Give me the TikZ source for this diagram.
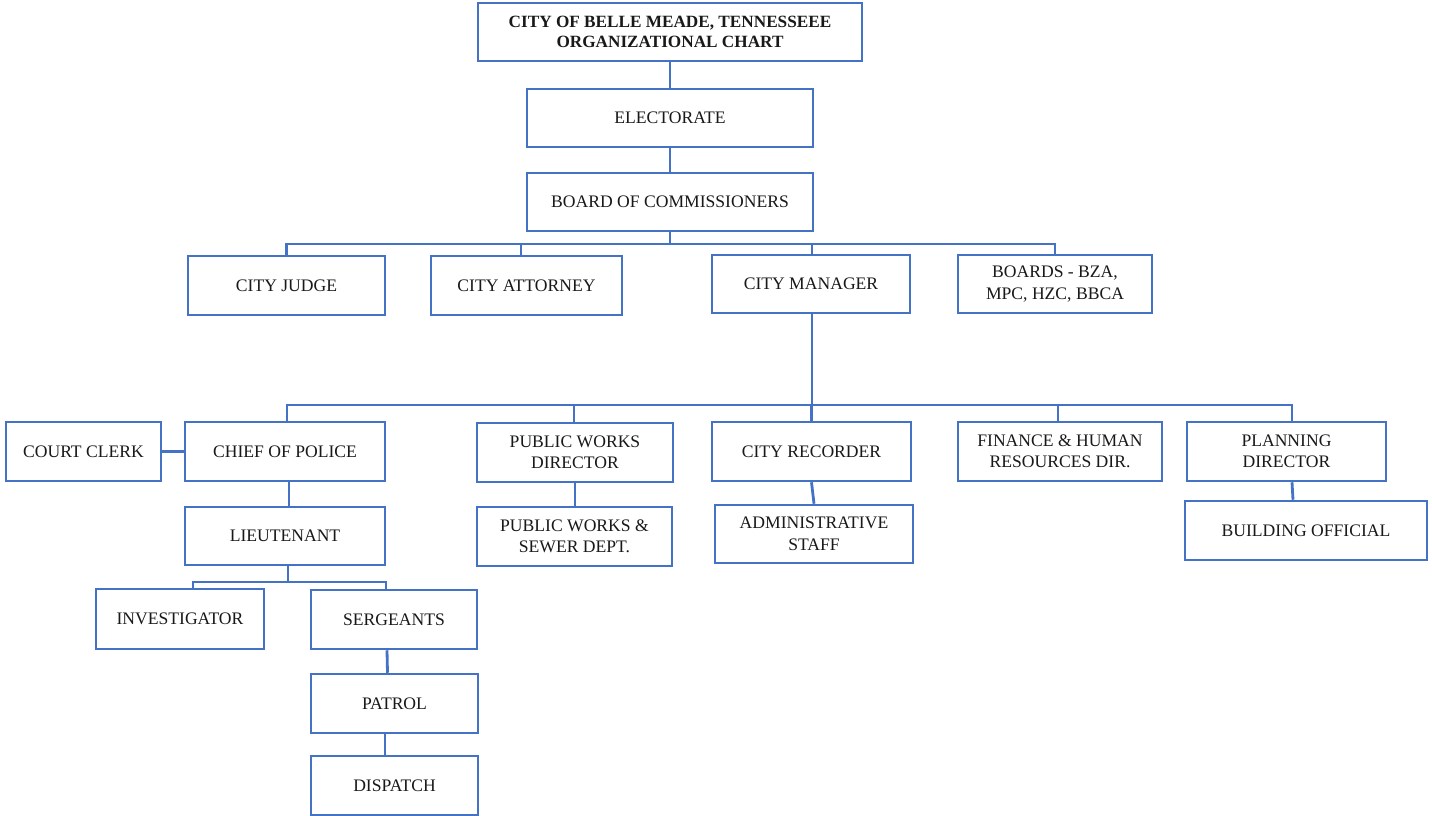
\documentclass[tikz,border=0pt]{standalone}
\usepackage{fontspec}
\setmainfont{Liberation Serif}
\definecolor{lineblue}{HTML}{4472C4}
\begin{document}
\begin{tikzpicture}[x=1pt,y=-1pt,
  bx/.style={draw=lineblue,line width=2.5pt,fill=white,inner sep=0pt,align=center,
    font=\fontsize{17.6}{21.5}\selectfont,text=black!90},
  ln/.style={draw=lineblue,line width=2.8pt}]
\useasboundingbox (0,0) rectangle (1432,816);
% row 0-2
\node[bx,minimum width=384,minimum height=58,font=\fontsize{17.2}{19.5}\selectfont\bfseries] (title) at (670,32) {CITY OF BELLE MEADE, TENNESSEEE\\ORGANIZATIONAL CHART};
\node[bx,minimum width=286,minimum height=58] (elect) at (670,118) {ELECTORATE};
\node[bx,minimum width=286,minimum height=58] (board) at (670,202) {BOARD OF COMMISSIONERS};
% row 3
\node[bx,minimum width=197,minimum height=59] (judge) at (286.5,285.5) {CITY JUDGE};
\node[bx,minimum width=191,minimum height=59] (attorney) at (526.5,285.5) {CITY ATTORNEY};
\node[bx,minimum width=198,minimum height=58] (manager) at (811,284) {CITY MANAGER};
\node[bx,minimum width=194,minimum height=58] (boards) at (1055,284) {BOARDS - BZA,\\MPC, HZC, BBCA};
% row 4
\node[bx,minimum width=155,minimum height=59] (clerk) at (83.5,451.5) {COURT CLERK};
\node[bx,minimum width=200,minimum height=59] (chief) at (285,451.5) {CHIEF OF POLICE};
\node[bx,minimum width=196,minimum height=59] (pwd) at (575,452.5) {PUBLIC WORKS\\DIRECTOR};
\node[bx,minimum width=199,minimum height=59] (recorder) at (811.5,451.5) {CITY RECORDER};
\node[bx,minimum width=204,minimum height=59] (finance) at (1060,451.5) {FINANCE \& HUMAN\\RESOURCES DIR.};
\node[bx,minimum width=199,minimum height=59] (planning) at (1286.5,451.5) {PLANNING\\DIRECTOR};
% row 5
\node[bx,minimum width=200,minimum height=58] (lieut) at (285,536) {LIEUTENANT};
\node[bx,minimum width=195,minimum height=59] (pws) at (574.5,536.5) {PUBLIC WORKS \&\\SEWER DEPT.};
\node[bx,minimum width=198,minimum height=58] (admin) at (814,534) {ADMINISTRATIVE\\STAFF};
\node[bx,minimum width=242,minimum height=59] (building) at (1306,530.5) {BUILDING OFFICIAL};
% row 6-8
\node[bx,minimum width=168,minimum height=60] (invest) at (180,619) {INVESTIGATOR};
\node[bx,minimum width=166,minimum height=59] (serg) at (394,619.5) {SERGEANTS};
\node[bx,minimum width=167,minimum height=59] (patrol) at (394.5,703.5) {PATROL};
\node[bx,minimum width=167,minimum height=59] (dispatch) at (394.5,785.5) {DISPATCH};
% bus coordinates
\coordinate (bus1) at (670,244);
\coordinate (bus2) at (812,405);
\coordinate (bus3) at (288,582);
% connectors
\draw[ln] (title) -- (elect);
\draw[ln] (elect) -- (board);
\draw[ln] (board.south) -- (bus1);
\draw[ln] (judge.north) |- (bus1) -| (boards.north);
\draw[ln] ([xshift=-5.5]attorney.north) -- ([xshift=-5.5]attorney.north |- bus1);
\draw[ln] ([xshift=1]manager.north) -- ([xshift=1]manager.north |- bus1);
\draw[ln] ([xshift=1]manager.south) -- (bus2);
\draw[ln] ([xshift=2]chief.north) |- (bus2) -| ([xshift=5.5]planning.north);
\draw[ln] ([xshift=-1]pwd.north) -- ([xshift=-1]pwd.north |- bus2);
\draw[ln] (recorder.north) -- (recorder.north |- bus2);
\draw[ln] ([xshift=-2]finance.north) -- ([xshift=-2]finance.north |- bus2);
\draw[ln] (clerk.east) -- (chief.west);
\draw[ln] ([xshift=4]chief.south) -- ([xshift=4]lieut.north);
\draw[ln] ([xshift=3]lieut.south) -- (bus3);
\draw[ln] ([xshift=13]invest.north) |- (bus3) -| ([xshift=-8]serg.north);
\draw[ln] ([xshift=-7]serg.south) -- ([xshift=-7]patrol.north);
\draw[ln] ([xshift=-9.5]patrol.south) -- ([xshift=-9.5]dispatch.north);
\draw[ln] (pwd.south) -- ([xshift=0.5]pws.north);
\draw[ln] (recorder.south) -- (admin.north);
\draw[ln] ([xshift=5.5]planning.south) -- ([xshift=-13]building.north);
\end{tikzpicture}
\end{document}
